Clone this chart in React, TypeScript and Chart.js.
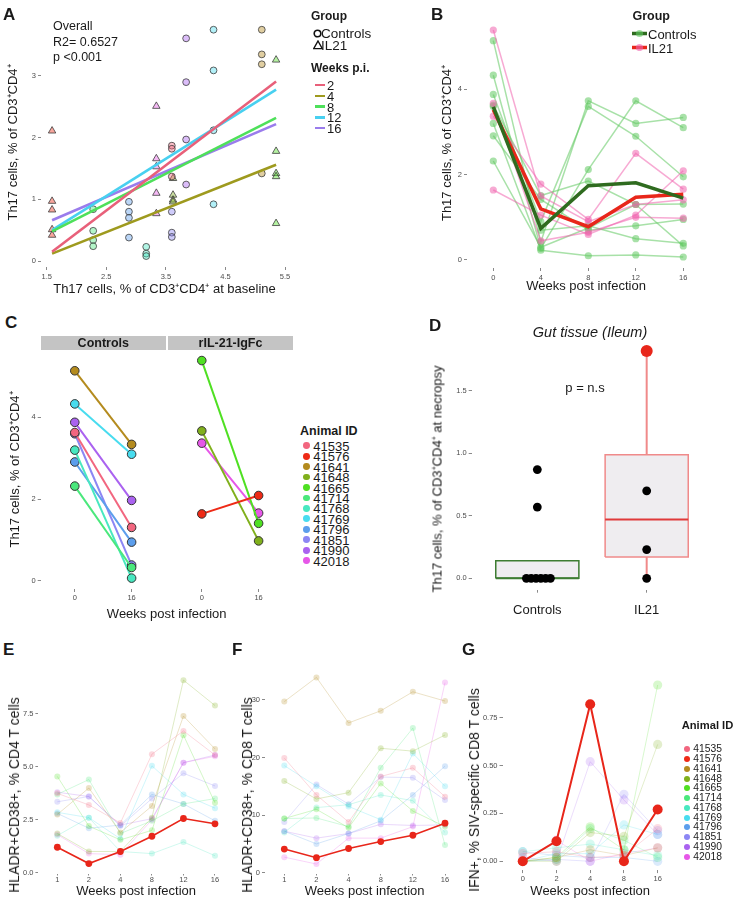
import React, { useEffect, useRef } from 'react';
import { Chart, registerables } from 'chart.js';
Chart.register(...registerables);

const FONT = '"Liberation Sans", Arial, Helvetica, sans-serif';
const INK = '#1a1a1a';
const TICK = '#4d4d4d';

// ---------- shared animal data ----------
const animalIds = ['41535', '41576', '41641', '41648', '41665', '41714', '41768', '41769', '41796', '41851', '41990', '42018'];
const animalColors = ['#F2667F', '#EE2A16', '#B48B1E', '#80B01C', '#4FE022', '#4AE87C', '#48E8C0', '#48DCEF', '#5C9EEC', '#8C86F4', '#AA62F0', '#E657E8'];
const isIL21 = [false, true, false, true, true, false, false, false, false, false, false, true];
const highlightId = '41576';

// ---------- Panel A ----------
const aBaseline = [3.60, 1.59, 5.11, 3.62, 5.35, 2.28, 3.17, 4.30, 2.88, 3.60, 3.84, 3.34];
const aFollowUp = [
  [1.87, 1.82, 1.37],
  [2.11, 0.97, 0.83, 0.51, 0.42],
  [3.75, 3.35, 3.19, 1.42],
  [1.34, 1.07, 0.99, 0.96],
  [3.26, 1.78, 1.42, 1.37, 0.61],
  [0.84, 0.49, 0.34, 0.24],
  [0.23, 0.12, 0.08],
  [3.75, 3.09, 2.12, 0.92],
  [0.96, 0.80, 0.70, 0.38],
  [0.80, 0.46, 0.39],
  [3.61, 2.90, 1.97, 1.24],
  [2.51, 1.66, 1.53, 1.10, 0.77],
];
const weeksPI = ['2', '4', '8', '12', '16'];
const weekColors = ['#E8607A', '#9E9A1E', '#4EE05A', '#48D0F0', '#9A7CEC'];
const fitX = [1.59, 5.35];
const fitStart = [0.15, 0.12, 0.48, 0.50, 0.66];
const fitEnd = [2.91, 1.56, 2.32, 2.78, 2.22];
const aXTicks = [1.5, 2.5, 3.5, 4.5, 5.5];
const aXTickLabels = ['1.5', '2.5', '3.5', '4.5', '5.5'];
const aYTicks = [0, 1, 2, 3];
const aYTickLabels = ['0', '1', '2', '3'];

// ---------- Panel B ----------
const bWeeks = [0, 4, 8, 12, 16];
const bControls = [
  [5.14, 0.42, 3.73, 3.20, 3.34],
  [4.33, 0.27, 2.12, 3.73, 3.10],
  [3.88, 0.90, 3.60, 2.90, 1.95],
  [3.63, 1.51, 1.85, 1.30, 1.31],
  [3.60, 0.70, 0.80, 0.50, 0.39],
  [3.20, 0.23, 0.10, 0.12, 0.07],
  [2.91, 1.42, 0.70, 0.80, 0.95],
  [2.32, 0.30, 0.75, 1.30, 0.33],
];
const bIL21 = [
  [5.39, 1.50, 0.90, 1.30, 1.41],
  [3.67, 0.45, 0.65, 1.00, 0.98],
  [3.37, 1.78, 0.95, 2.50, 1.66],
  [1.64, 1.05, 0.60, 1.05, 2.09],
];
const bMeanControls = [3.59, 0.74, 1.74, 1.81, 1.45];
const bMeanIL21 = [3.52, 1.20, 0.78, 1.47, 1.54];
const bYTicks = [0, 2, 4];

// ---------- Panel C ----------
const cWeek0 = [3.63, 1.64, 5.14, 3.67, 5.39, 2.32, 3.20, 4.33, 2.91, 3.60, 3.88, 3.37];
const cWeek16 = [1.31, 2.09, 3.34, 0.98, 1.41, 0.33, 0.07, 3.10, 0.95, 0.39, 1.97, 1.66];
const cFacets = ['Controls', 'rIL-21-IgFc'];
const cTimeLabels = ['0', '16'];
const cYTicks = [0, 2, 4];

// ---------- Panel D ----------
const dGroups = ['Controls', 'IL21'];
const dControlsPts = [0.87, 0.57, 0, 0, 0, 0, 0, 0];
const dIL21Pts = [0.70, 0.23, 0.0];
const dQ1 = [0.0, 0.17];
const dMedian = [0.0, 0.47];
const dQ3 = [0.14, 0.99];
const dWhiskLo = [0.0, 0.0];
const dWhiskHi = [0.14, 1.82];
const dOutlier = 1.82;
const dYTicks = [0, 0.5, 1, 1.5];
const dYTickLabels = ['0.0', '0.5', '1.0', '1.5'];

// ---------- Panel E ----------
const eWeeks = ['1', '2', '4', '8', '12', '16'];
const eValues = [
  [3.75, 3.20, 2.35, 5.60, 6.70, 5.56],
  [1.20, 0.43, 1.00, 1.72, 2.56, 2.31],
  [2.75, 4.00, 1.90, 3.15, 7.40, 5.85],
  [1.85, 1.00, 1.00, 2.60, 9.10, 7.90],
  [4.55, 2.20, 1.55, 2.00, 6.50, 3.30],
  [3.70, 4.40, 1.85, 2.45, 3.25, 3.50],
  [1.75, 2.60, 1.00, 0.90, 1.45, 0.80],
  [2.85, 2.60, 1.60, 5.05, 3.70, 3.05],
  [2.80, 2.10, 2.25, 3.70, 3.25, 2.45],
  [3.35, 3.60, 2.20, 3.50, 4.70, 4.10],
  [3.80, 3.60, 2.25, 2.55, 5.20, 5.56],
  [1.80, 0.90, 0.85, 2.50, 5.20, 5.50],
];
const eYTicks = [0, 2.5, 5, 7.5];
const eYTickLabels = ['0.0', '2.5', '5.0', '7.5'];

// ---------- Panel F ----------
const fWeeks = ['1', '2', '4', '8', '12', '16'];
const fValues = [
  [19.9, 13.5, 8.8, 16.7, 18.2, 13.2],
  [4.1, 2.6, 4.2, 5.4, 6.5, 8.6],
  [29.7, 33.9, 26.0, 28.1, 31.4, 29.8],
  [15.9, 12.8, 13.9, 21.6, 21.1, 23.9],
  [9.4, 11.0, 7.8, 15.5, 10.7, 8.0],
  [9.4, 9.5, 8.0, 18.2, 25.1, 4.8],
  [7.0, 11.3, 11.8, 13.5, 12.5, 7.0],
  [18.6, 15.0, 11.5, 9.2, 20.7, 15.0],
  [7.2, 5.0, 6.8, 9.0, 13.5, 18.5],
  [8.8, 15.3, 11.9, 16.6, 16.5, 12.6],
  [7.2, 6.0, 6.8, 8.4, 8.2, 8.3],
  [2.7, 1.5, 6.0, 6.0, 8.0, 33.0],
];
const fYTicks = [0, 10, 20, 30];
const fYTickLabels = ['0', '10', '20', '30'];

// ---------- Panel G ----------
const gWeeks = ['0', '2', '4', '8', '16'];
const gValues = [
  [0.04, 0.05, 0.02, 0.03, 0.17],
  [0.00, 0.105, 0.82, 0.00, 0.27],
  [0.00, 0.02, 0.06, 0.03, 0.07],
  [0.00, 0.00, 0.15, 0.13, 0.61],
  [0.00, 0.02, 0.18, 0.06, 0.92],
  [0.00, 0.01, 0.17, 0.11, 0.02],
  [0.05, 0.07, 0.09, 0.06, 0.03],
  [0.00, 0.04, 0.04, 0.19, 0.14],
  [0.05, 0.03, 0.02, 0.02, 0.00],
  [0.00, 0.01, 0.00, 0.35, 0.16],
  [0.02, 0.00, 0.52, 0.32, 0.14],
  [0.00, 0.11, 0.00, 0.04, 0.07],
];
const gYTicks = [0, 0.25, 0.5, 0.75];
const gYTickLabels = ['0.00', '0.25', '0.50', '0.75'];

// ---------- helpers ----------
const hexA = (hex: string, a: number) => {
  const n = parseInt(hex.slice(1), 16);
  return `rgba(${(n >> 16) & 255},${(n >> 8) & 255},${n & 255},${a})`;
};

type AxisOpt = {
  min: number; max: number; ticks: number[]; labels: string[]; fixed: number; horizontal?: boolean;
  title?: string; titleSize?: number; titlePad?: number; tickSize?: number; tickColor?: string; tickPad?: number; tickLen?: number;
};
function axis(o: AxisOpt): any {
  return {
    type: 'linear',
    position: o.horizontal ? 'bottom' : 'left',
    min: o.min,
    max: o.max,
    afterBuildTicks: (s: any) => { s.ticks = o.ticks.map((v) => ({ value: v })); },
    afterFit: (s: any) => { if (o.horizontal) s.height = o.fixed; else s.width = o.fixed; },
    grid: { display: true, drawOnChartArea: false, drawTicks: true, tickLength: o.tickLen ?? 3, color: '#8a8a8a', lineWidth: 1 },
    border: { display: false },
    ticks: {
      autoSkip: false, maxRotation: 0, minRotation: 0, padding: o.tickPad ?? 2,
      color: o.tickColor ?? TICK, font: { family: FONT, size: o.tickSize ?? 7.5 },
      callback: (_v: any, i: number) => o.labels[i],
    },
    title: o.title
      ? { display: true, text: o.title, color: INK, font: { family: FONT, size: o.titleSize ?? 13 }, padding: { top: o.titlePad ?? 0, bottom: o.titlePad ?? 0 } }
      : { display: false },
  };
}

function makeConfig(datasets: any[], x: any, y: any, padTop: number, padRight: number): any {
  return {
    type: 'line',
    data: { datasets },
    options: {
      responsive: false,
      maintainAspectRatio: false,
      animation: false,
      events: [],
      layout: { padding: { top: padTop, right: padRight, left: 0, bottom: 0 } },
      plugins: { legend: { display: false }, tooltip: { enabled: false } },
      elements: { line: { tension: 0 } },
      scales: { x, y },
    },
  };
}

const seg = (xs: number[], ys: number[]) => xs.map((x, i) => ({ x, y: ys[i] }));

// ---------- builders ----------
function buildA() {
  const datasets: any[] = [
    ...weeksPI.map((_, i) => ({
      data: seg(fitX, [fitStart[i], fitEnd[i]]), borderColor: weekColors[i], borderWidth: 2.6,
      pointRadius: 0, showLine: true, fill: false, clip: false,
    })),
    ...animalIds.map((_, k) => ({
      data: aFollowUp[k].map((v) => ({ x: aBaseline[k], y: v })), showLine: false, borderColor: 'transparent',
      pointStyle: isIL21[k] ? 'triangle' : 'circle', pointRadius: isIL21[k] ? 4.3 : 3.4,
      pointBackgroundColor: hexA(animalColors[k], 0.42), pointBorderColor: '#3c3c3c', pointBorderWidth: 0.8, clip: false,
    })),
  ];
  return makeConfig(
    datasets,
    axis({ min: 1.404, max: 5.55, ticks: aXTicks, labels: aXTickLabels, fixed: 31, horizontal: true, title: 'Th17 cells, % of CD3⁺CD4⁺ at baseline', titleSize: 13, titlePad: 1.2, tickPad: 2 }),
    axis({ min: -0.097, max: 3.94, ticks: aYTicks, labels: aYTickLabels, fixed: 41, title: 'Th17 cells, % of CD3⁺CD4⁺', titleSize: 13, titlePad: 5.2 }),
    18, 10,
  );
}

function buildB() {
  const green = 'rgba(96,200,96,0.55)';
  const pink = 'rgba(240,100,175,0.55)';
  const datasets: any[] = [
    { data: seg(bWeeks, bMeanControls), borderColor: '#2F6B1F', borderWidth: 3.5, pointRadius: 0, clip: false },
    { data: seg(bWeeks, bMeanIL21), borderColor: '#E8261A', borderWidth: 3.5, pointRadius: 0, clip: false },
    ...bIL21.map((vals) => ({ data: seg(bWeeks, vals), borderColor: pink, borderWidth: 1.5, pointRadius: 3.6, pointBackgroundColor: pink, pointBorderWidth: 0, clip: false })),
    ...bControls.map((vals) => ({ data: seg(bWeeks, vals), borderColor: green, borderWidth: 1.5, pointRadius: 3.6, pointBackgroundColor: green, pointBorderWidth: 0, clip: false })),
  ];
  return makeConfig(
    datasets,
    axis({ min: -2.215, max: 17.83, ticks: bWeeks, labels: bWeeks.map(String), fixed: 28, horizontal: true, title: 'Weeks post infection', titleSize: 13, titlePad: 2.2 }),
    axis({ min: -0.1875, max: 5.671, ticks: bYTicks, labels: bYTicks.map(String), fixed: 27, title: 'Th17 cells, % of CD3⁺CD4⁺', titleSize: 13, titlePad: 0 }),
    18, 36,
  );
}

// facet layout (positions on a shared linear axis: two panels side by side)
const cFacetPos = [[1, 2], [3.235, 4.235]];
function buildC() {
  const datasets: any[] = animalIds.map((_, k) => {
    const xs = cFacetPos[isIL21[k] ? 1 : 0];
    return {
      data: seg(xs, [cWeek0[k], cWeek16[k]]), borderColor: animalColors[k], borderWidth: 2,
      pointRadius: 4.3, pointBackgroundColor: animalColors[k], pointBorderColor: '#333', pointBorderWidth: 1, clip: false,
    };
  });
  const xt = [...cFacetPos[0], ...cFacetPos[1]];
  return makeConfig(
    datasets,
    axis({ min: 0.4, max: 4.835, ticks: xt, labels: [...cTimeLabels, ...cTimeLabels], fixed: 34, horizontal: true, title: 'Weeks post infection', titleSize: 13, titlePad: 1.2, tickPad: 1.2 }),
    axis({ min: -0.196, max: 5.648, ticks: cYTicks, labels: cYTicks.map(String), fixed: 40.7, title: 'Th17 cells, % of CD3⁺CD4⁺', titleSize: 13, titlePad: 7.2 }),
    10, 5,
  );
}

function buildD() {
  const hw = 0.38;
  const boxBorder = ['#3E7D32', '#F08A8A'];
  const medColor = ['#3E7D32', '#E03A3A'];
  const datasets: any[] = [];
  // outlier
  datasets.push({ data: [{ x: 2, y: dOutlier }], showLine: false, borderColor: 'transparent', pointRadius: 6, pointBackgroundColor: '#E8261A', pointBorderWidth: 0, clip: false });
  // black dots (zeros dodged side by side)
  const zeros = dControlsPts.filter((v) => v === 0).length;
  let zi = 0;
  const ctrlPts = dControlsPts.map((v) => {
    if (v !== 0) return { x: 1, y: v };
    const off = (zi++ - (zeros - 1) / 2) * 0.044;
    return { x: 1.01 + off, y: v };
  });
  datasets.push({ data: ctrlPts, showLine: false, borderColor: 'transparent', pointRadius: 4.4, pointBackgroundColor: '#000', pointBorderWidth: 0, clip: false });
  datasets.push({ data: dIL21Pts.map((v) => ({ x: 2, y: v })), showLine: false, borderColor: 'transparent', pointRadius: 4.4, pointBackgroundColor: '#000', pointBorderWidth: 0, clip: false });
  dGroups.forEach((_, g) => {
    const c = g + 1;
    // median
    datasets.push({ data: seg([c - hw, c + hw], [dMedian[g], dMedian[g]]), borderColor: medColor[g], borderWidth: 2, pointRadius: 0, clip: false });
    // box outline
    datasets.push({ data: seg([c - hw, c + hw, c + hw, c - hw, c - hw], [dQ1[g], dQ1[g], dQ3[g], dQ3[g], dQ1[g]]), borderColor: boxBorder[g], borderWidth: 1.5, pointRadius: 0, clip: false });
    // whiskers
    datasets.push({ data: seg([c, c], [dQ3[g], dWhiskHi[g]]), borderColor: boxBorder[g], borderWidth: 2, pointRadius: 0, clip: false });
    datasets.push({ data: seg([c, c], [dWhiskLo[g], dQ1[g]]), borderColor: boxBorder[g], borderWidth: 2, pointRadius: 0, clip: false });
    // box fill
    datasets.push({ data: seg([c - hw, c + hw], [dQ3[g], dQ3[g]]), borderColor: 'transparent', borderWidth: 0, pointRadius: 0, fill: { value: dQ1[g] }, backgroundColor: '#EFEDF0', clip: false });
  });
  return makeConfig(
    datasets,
    axis({ min: 0.4, max: 2.6, ticks: [1, 2], labels: dGroups, fixed: 30.3, horizontal: true, tickSize: 13, tickColor: INK, tickPad: 9.5 }),
    axis({ min: -0.0913, max: 1.91, ticks: dYTicks, labels: dYTickLabels, fixed: 71.7 }),
    9.7, 28.7,
  );
}

function buildSpaghetti(values: number[][], weeks: string[], alpha: number, r: number, redW: number) {
  const hi = animalIds.indexOf(highlightId);
  const xs = weeks.map((_, i) => i + 1);
  const order = [hi, ...animalIds.map((_, k) => k).filter((k) => k !== hi)];
  return order.map((k) => {
    const isHi = k === hi;
    const col = isHi ? '#E8261A' : hexA(animalColors[k], alpha);
    return {
      data: seg(xs, values[k]), borderColor: col, borderWidth: isHi ? redW : 1,
      pointRadius: isHi ? r + 0.4 : r, pointBackgroundColor: col, pointBorderWidth: 0, clip: false,
    };
  });
}

function buildE() {
  const ticks = eWeeks.map((_, i) => i + 1);
  return makeConfig(
    buildSpaghetti(eValues, eWeeks, 0.25, 3, 1.6),
    axis({ min: 0.4, max: 6.6, ticks, labels: eWeeks, fixed: 25.5, horizontal: true, title: 'Weeks post infection', titleSize: 13, titlePad: 0, tickLen: 2, tickPad: 0 }),
    axis({ min: -0.04, max: 9.598, ticks: eYTicks, labels: eYTickLabels, fixed: 38.4 }),
    9.6, 11.1,
  );
}

function buildF() {
  const ticks = fWeeks.map((_, i) => i + 1);
  return makeConfig(
    buildSpaghetti(fValues, fWeeks, 0.25, 3, 1.6),
    axis({ min: 0.4, max: 6.6, ticks, labels: fWeeks, fixed: 25.5, horizontal: true, title: 'Weeks post infection', titleSize: 13, titlePad: 0, tickLen: 2, tickPad: 0 }),
    axis({ min: -0.139, max: 35.5, ticks: fYTicks, labels: fYTickLabels, fixed: 25 }),
    10.2, 10.7,
  );
}

function buildG() {
  const ticks = gWeeks.map((_, i) => i + 1);
  return makeConfig(
    buildSpaghetti(gValues, gWeeks, 0.22, 4.6, 2),
    axis({ min: 0.4, max: 5.6, ticks, labels: gWeeks, fixed: 28.9, horizontal: true, title: 'Weeks post infection', titleSize: 13, titlePad: 0, tickPad: 1 }),
    axis({ min: -0.046, max: 0.966, ticks: gYTicks, labels: gYTickLabels, fixed: 27.5 }),
    10.2, 12.1,
  );
}

// ---------- components ----------
type Box = { l: number; t: number; w: number; h: number };
function ChartCanvas({ box, build }: { box: Box; build: () => any }) {
  const ref = useRef<HTMLCanvasElement>(null);
  useEffect(() => {
    const chart = new Chart(ref.current as HTMLCanvasElement, build());
    return () => chart.destroy();
  }, []);
  return <canvas ref={ref} width={box.w} height={box.h} style={{ position: 'absolute', left: box.l, top: box.t, width: box.w, height: box.h }} />;
}

function T(props: { x: number; y: number; s: number; b?: boolean; i?: boolean; c?: string; center?: boolean; children: any }) {
  const { x, y, s, b, i, c, center, children } = props;
  return (
    <div style={{
      position: 'absolute', left: x, top: y, transform: `translate(${center ? '-50%' : '0'}, -50%)`,
      fontSize: s, fontWeight: b ? 'bold' : 'normal', fontStyle: i ? 'italic' : 'normal', color: c || INK,
      fontFamily: FONT, whiteSpace: 'nowrap', lineHeight: 1,
    }}>{children}</div>
  );
}

function VT(props: { x: number; y: number; s: number; children: any }) {
  return (
    <div style={{
      position: 'absolute', left: props.x, top: props.y, transform: 'translate(-50%, -50%) rotate(-90deg)',
      fontSize: props.s, fontFamily: FONT, whiteSpace: 'nowrap', lineHeight: 1, color: INK,
    }}>{props.children}</div>
  );
}

function Dot(props: { x: number; y: number; r: number; c: string }) {
  return <div style={{ position: 'absolute', left: props.x - props.r, top: props.y - props.r, width: props.r * 2, height: props.r * 2, borderRadius: '50%', background: props.c }} />;
}

function AnimalLegend(props: { x: number; ty: number; y0: number; dy: number; ts: number; s: number; r: number; dotX: number; textX: number }) {
  const { x, ty, y0, dy, ts, s, r, dotX, textX } = props;
  return (
    <>
      <T x={x} y={ty} s={ts} b>Animal ID</T>
      {animalIds.map((id, k) => (
        <React.Fragment key={id}>
          <Dot x={dotX} y={y0 + k * dy} r={r} c={animalColors[k]} />
          <T x={textX} y={y0 + k * dy} s={s}>{id}</T>
        </React.Fragment>
      ))}
    </>
  );
}

export default function App() {
  return (
    <div style={{ position: 'absolute', left: 0, top: 0, width: 741, height: 899, overflow: 'hidden', background: '#fff', fontFamily: FONT }}>
      <ChartCanvas box={{ l: 0, t: 0, w: 298, h: 298 }} build={buildA} />
      <ChartCanvas box={{ l: 440, t: 0, w: 301, h: 296 }} build={buildB} />
      <ChartCanvas box={{ l: 0, t: 340, w: 298, h: 283 }} build={buildC} />
      <ChartCanvas box={{ l: 400, t: 330, w: 341, h: 290 }} build={buildD} />
      <ChartCanvas box={{ l: 0, t: 660, w: 245, h: 239 }} build={buildE} />
      <ChartCanvas box={{ l: 240, t: 658, w: 235, h: 241 }} build={buildF} />
      <ChartCanvas box={{ l: 475, t: 666, w: 215, h: 233 }} build={buildG} />

      {/* panel letters */}
      <T x={3} y={14} s={17} b>A</T>
      <T x={431} y={14} s={17} b>B</T>
      <T x={5} y={322} s={17} b>C</T>
      <T x={429} y={325} s={17} b>D</T>
      <T x={3} y={649} s={17} b>E</T>
      <T x={232} y={649} s={17} b>F</T>
      <T x={462} y={649} s={17} b>G</T>

      {/* Panel A annotations */}
      <T x={53} y={26} s={12.5}>Overall</T>
      <T x={53} y={42} s={12.5}>R2= 0.6527</T>
      <T x={53} y={57} s={12.5}>p &lt;0.001</T>

      {/* Panel A legend */}
      <T x={311} y={16} s={12} b>Group</T>
      <svg style={{ position: 'absolute', left: 313, top: 29 }} width={9} height={9}>
        <circle cx={4.5} cy={4.5} r={3.3} fill="none" stroke="#111" strokeWidth={1.6} />
      </svg>
      <T x={321} y={34} s={13.5}>Controls</T>
      <svg style={{ position: 'absolute', left: 312.5, top: 40 }} width={10} height={10}>
        <polygon points="5,1 9.3,8.6 0.7,8.6" fill="none" stroke="#111" strokeWidth={1.4} />
      </svg>
      <T x={321} y={45.5} s={13.5}>IL21</T>
      <T x={311} y={68} s={12} b>Weeks p.i.</T>
      {weeksPI.map((w, i) => (
        <React.Fragment key={w}>
          <div style={{ position: 'absolute', left: 314.5, top: 85 + i * 10.8 - 1.2, width: 10, height: 2.4, background: weekColors[i] }} />
          <T x={327} y={85 + i * 10.8} s={13}>{w}</T>
        </React.Fragment>
      ))}

      {/* Panel B legend */}
      <T x={632.5} y={16} s={12.5} b>Group</T>
      <svg style={{ position: 'absolute', left: 632, top: 27 }} width={16} height={24}>
        <line x1={0} y1={6.5} x2={15} y2={6.5} stroke="#2F6B1F" strokeWidth={3.5} />
        <circle cx={7.5} cy={6.5} r={3.6} fill="rgba(96,200,96,0.6)" />
        <line x1={0} y1={20.5} x2={15} y2={20.5} stroke="#E8261A" strokeWidth={3.5} />
        <circle cx={7.5} cy={20.5} r={3.6} fill="rgba(240,100,175,0.6)" />
      </svg>
      <T x={648} y={33.5} s={13}>Controls</T>
      <T x={648} y={47.5} s={13}>IL21</T>

      {/* Panel C strips & legend */}
      <div style={{ position: 'absolute', left: 40.7, top: 335.7, width: 125.3, height: 14.3, background: '#C4C4C4' }} />
      <div style={{ position: 'absolute', left: 168, top: 335.7, width: 125, height: 14.3, background: '#C4C4C4' }} />
      <T x={103.3} y={343} s={12.5} b center>{cFacets[0]}</T>
      <T x={230.5} y={343} s={12.5} b center>{cFacets[1]}</T>
      <AnimalLegend x={300} ty={431} y0={445.7} dy={10.45} ts={12.5} s={13} r={3.4} dotX={306.7} textX={313.3} />

      {/* Panel D annotations */}
      <T x={590} y={332} s={14.5} i center>Gut tissue (Ileum)</T>
      <T x={585} y={387} s={13} center>p = n.s</T>
      <VT x={436.7} y={479} s={13}>Th17 cells, % of CD3⁺CD4⁺ at necropsy</VT>

      {/* Panel E/F/G y titles */}
      <VT x={14} y={795} s={14}>HLADR+CD38+, % CD4 T cells</VT>
      <VT x={247} y={795} s={14}>HLADR+CD38+, % CD8 T cells</VT>
      <VT x={474} y={790} s={14}>IFN+, % SIV-specific CD8 T cells</VT>

      {/* Panel G legend */}
      <AnimalLegend x={681.7} ty={726} y0={749.3} dy={9.76} ts={11.2} s={10.3} r={3} dotX={687.3} textX={693.3} />
    </div>
  );
}
